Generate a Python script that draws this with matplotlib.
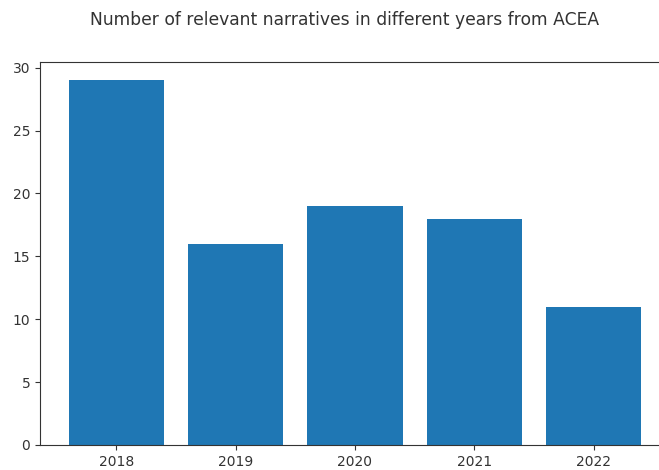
import matplotlib
matplotlib.use("Agg")
import matplotlib.pyplot as plt

years = ["2018", "2019", "2020", "2021", "2022"]
counts = [29, 16, 19, 18, 11]

plt.rcParams.update({
    "text.color": "#333333",
    "xtick.color": "#333333",
    "ytick.color": "#333333",
    "axes.edgecolor": "#333333",
})

W, H = 659, 470
fig = plt.figure(figsize=(W/100, H/100), dpi=100)
ax = fig.add_axes([40/W, 1-445/H, 630/W, (445-62)/H])
ax.bar(years, counts, color="#1f77b4")
ax.set_yticks([0, 5, 10, 15, 20, 25, 30])
fig.suptitle("Number of relevant narratives in different years from ACEA",
             x=345/W, y=1-20/H, va="center", fontsize=12.3)
fig.savefig("out.png", dpi=100, facecolor="white")
